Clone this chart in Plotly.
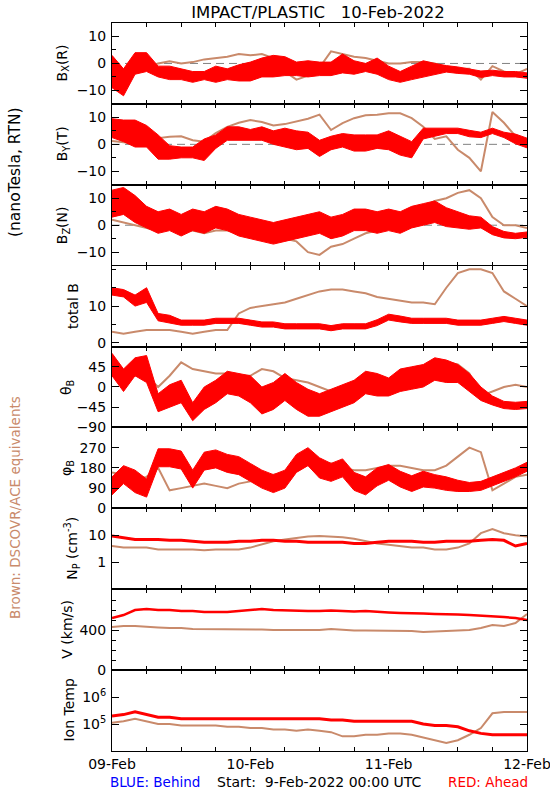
import plotly.graph_objects as go
from plotly.subplots import make_subplots

# ---------------- data (hours since 9-Feb-2022 00:00 UTC) ----------------
hours = [0, 2, 4, 6, 8, 10, 12, 14, 16, 18, 20, 22, 24, 26, 28, 30, 32, 34, 36,
         38, 40, 42, 44, 46, 48, 50, 52, 54, 56, 58, 60, 62, 64, 66, 68, 70, 72]
day_hours = [0, 24, 48, 72]
day_labels = ["09-Feb", "10-Feb", "11-Feb", "12-Feb"]
six_hour_ticks = [6, 12, 18, 30, 36, 42, 54, 60, 66]

# Bx (R), nT
bx_red = [-3, -7, 0, 0.5, -3, -3.5, -4, -5, -4.5, -4, -4, -3.5, -3, -1.5, -1, -1, -2, -2, -2,
          -2, 0, -1.5, -1.5, -1, -3.5, -5, -3.5, -2, -2, -2, -2.5, -3, -4, -3.5, -4, -4, -4.5]
bx_red_spread = [6, 5, 4, 3.5, 2, 2.5, 2, 2, 1.5, 3, 2, 3, 3.5, 3.5, 4, 3.5, 2.5, 3, 2.5,
                 2.5, 3.5, 2.5, 1.5, 3, 2.5, 2, 2.5, 3, 2, 1.2, 1.2, 1, 1.2, 1, 1, 1, 1]
bx_brown = [-1, -2.5, -1.5, -1.8, 0, 0.8, 0, 0.5, 1.5, 2, 2.5, 3.5, 3, 3.5, 2, -3, -6, -4.5, -1.5,
            4.5, 3.5, 2.5, 2, 1, 0, 0, 0.5, 0.5, 0, -1.5, -2, -2, -6, -1, -3, -4, -2]

# By (T), nT
by_red = [6, 5, 4, 3, -1, -3, -3, -3, -2, 1, 4, 4, 3.5, 4, 2.5, 2.5, 1.5, 1.5, -1.5,
          0.5, 1.5, 0.5, 0.5, 1, 1.5, -0.5, -2, 4, 4.5, 5, 5, 4, 3.5, 5, 3.5, 2, 0.5]
by_red_spread = [3.5, 4, 5, 4, 4.5, 2.5, 2, 2, 4, 2.5, 2.5, 2.5, 2, 2.5, 2.5, 3.5, 3.5, 3, 3,
                 2.5, 2.5, 3, 3, 2.5, 3.5, 3.5, 3, 2, 1.5, 1, 1, 1.2, 1, 1, 1, 1.8, 1.8]
by_brown = [1.2, 0.8, 0.3, 0.8, 2.3, 2.8, 3, 1.5, 1, 4.2, 6.5, 8, 9, 8.3, 7, 7.5, 8.5, 9.5, 11,
            5.3, 7.9, 9.7, 10.8, 11, 11.5, 11.5, 9.7, 6.5, 2, 3, -2, -5, -10, 12, 8, 3, 1]

# Bz (N), nT
bz_red = [8, 9, 6, 3, 1, 2, 0, 2, 1, 3, 2, 0, -1, -2, -3, -2, -1, 0, 1,
          -1, 0, 2, 2, 1, 2, 1, 3, 4, 5, 3, 2, 1, 1, -2, -3.5, -4, -3.5]
bz_red_spread = [5, 5, 5, 4, 4, 4, 4, 4, 4, 4, 4, 4, 4, 4, 4, 4, 4, 4, 4,
                 4, 4, 4, 4, 4, 4, 4, 4, 4, 4, 3.5, 3, 2.5, 2, 1.5, 1.2, 1, 1]
bz_brown = [2, 1, 0, -1, -2, -1, -2, -2, -3, -2, -2, -3, -2, -3, -4, -5, -6, -10, -11,
            -8, -7, -5, -3, -2, 0, 2, 4, 7, 9, 10, 12, 13, 10, 3, 0, 0, -1]

# total B, nT
btot_red = [14, 13.5, 11.5, 13, 7, 6.5, 5.5, 5.5, 5.5, 6, 6, 6, 5.5, 5, 5, 4.5, 4.5, 4.5, 4.5,
            4, 4.5, 4.5, 4.5, 5.5, 7, 6.5, 6, 6, 6, 6, 5.5, 5.5, 5.5, 6, 6.5, 6, 5.5]
btot_red_spread = [1, 1, 1.5, 2, 1, 1, 0.7, 0.7, 0.7, 0.7, 0.7, 0.7, 0.7, 0.7, 0.7, 0.7, 0.7, 0.7, 0.7,
                   0.7, 0.7, 0.7, 0.7, 0.8, 0.8, 0.8, 0.7, 0.7, 0.7, 0.7, 0.7, 0.7, 0.7, 0.7, 0.7, 0.7, 0.7]
btot_brown = [3, 2.5, 3, 3.5, 3.5, 3.5, 3, 2.5, 3, 3.5, 3.5, 8, 9.5, 10, 10.5, 11, 12, 13, 14,
              14.5, 14.5, 14, 13.5, 12.5, 12, 11.5, 11, 11, 10.5, 15, 19, 20, 20, 19, 14, 12, 10]

# theta_B, degrees
theta_red = [50, 15, 45, 40, -35, -20, -10, -55, -25, -10, 10, 5, -5, -30, -20, 0, -20, -35, -40,
             -30, -20, -10, 10, 5, 0, 15, 20, 25, 40, 35, 30, 10, -15, -30, -40, -42, -40]
theta_red_spread = [25, 25, 20, 30, 20, 25, 25, 20, 25, 25, 25, 25, 30, 30, 30, 30, 30, 30, 25,
                    25, 25, 25, 25, 25, 20, 25, 25, 25, 25, 25, 20, 20, 15, 10, 8, 8, 8]
theta_brown = [30, 30, 25, 25, 0, 25, 55, 40, 35, 30, 30, 25, 25, 40, 35, 20, 15, 10, 0,
               -10, 0, 10, 5, 0, 10, 15, 25, 35, 45, 55, 50, 30, -20, -10, 0, 5, 0]

# phi_B, degrees
phi_red = [100, 150, 120, 90, 225, 225, 215, 130, 210, 220, 200, 190, 160, 130, 110, 130, 200, 230, 180,
           160, 180, 120, 100, 140, 160, 130, 110, 130, 120, 110, 100, 95, 100, 120, 140, 160, 185]
phi_red_spread = [40, 40, 50, 40, 40, 40, 40, 40, 40, 40, 40, 40, 40, 40, 40, 40, 40, 40, 45,
                  40, 40, 40, 40, 40, 35, 35, 35, 35, 30, 30, 25, 20, 20, 20, 20, 20, 20]
phi_brown = [160, 150, 130, 140, 180, 80, 90, 100, 110, 100, 90, 110, 120, 140, 150, 160, 180, 200, 210,
             200, 180, 170, 170, 180, 190, 190, 180, 170, 170, 190, 230, 270, 250, 80, 110, 140, 150]

# proton density, cm^-3
np_red = [9.5, 8, 7, 7, 7, 6.5, 6.5, 6, 5.5, 5.5, 5.5, 6, 6, 6.5, 6.5, 6, 6, 5.5, 5.5,
          5.5, 5.5, 5, 5, 5.5, 6, 6, 6, 5.5, 5.5, 6, 6, 6, 6.5, 7, 6.5, 4, 5]
np_brown = [4, 3.5, 3.5, 3.5, 3, 3, 3, 3, 2.8, 3, 3, 3, 3.5, 4.5, 6, 7, 8, 9, 9.5,
            9, 8.5, 7.5, 6, 5, 4.5, 4, 3.5, 3.5, 3, 3, 3.5, 5, 12, 17, 12, 10, 9]

# bulk speed, km/s
v_red = [520, 550, 600, 610, 600, 600, 590, 590, 580, 580, 580, 590, 600, 610, 600, 595, 590, 590, 590,
         595, 590, 585, 590, 580, 575, 570, 570, 565, 560, 560, 555, 550, 545, 540, 530, 520, 500]
v_brown = [430, 440, 440, 430, 425, 420, 420, 410, 410, 410, 410, 410, 410, 405, 400, 400, 400, 400, 400,
           410, 400, 395, 395, 395, 390, 390, 390, 380, 385, 390, 390, 400, 420, 450, 440, 470, 560]

# ion temperature, K
temp_red = [2.0e5, 2.24e5, 2.82e5, 2.24e5, 1.78e5, 1.78e5, 1.58e5, 1.58e5, 1.58e5, 1.58e5, 1.58e5,
            1.58e5, 1.58e5, 1.58e5, 1.58e5, 1.58e5, 1.58e5, 1.58e5, 1.58e5, 1.41e5, 1.41e5,
            1.26e5, 1.26e5, 1.26e5, 1.26e5, 1.26e5, 1.26e5, 1.0e5, 8.9e4, 8.9e4, 7.9e4,
            5.6e4, 4.5e4, 4.0e4, 4.0e4, 4.2e4, 4.0e4]
temp_brown = [1.12e5, 1.26e5, 1.58e5, 1.26e5, 1.0e5, 1.0e5, 8.9e4, 8.9e4, 8.9e4, 8.9e4,
              7.9e4, 7.9e4, 7.1e4, 7.1e4, 6.3e4, 6.3e4, 5.6e4, 6.3e4, 5.6e4, 5.0e4,
              3.5e4, 3.5e4, 4.0e4, 4.0e4, 4.5e4, 4.5e4, 4.0e4, 3.2e4, 2.5e4, 2.0e4,
              2.5e4, 4.0e4, 7.1e4, 2.5e5, 2.82e5, 2.82e5, 2.82e5]

# ---------------- styling ----------------
RED = "#ff0000"
BROWN = "#c98a6b"
BLUE = "#0000ff"
FONT = "DejaVu Sans"
W, H = 550, 800
L, R, T, B = 112, 23, 23, 49
PW = W - L - R
PH = H - T - B
NROW = 9

fig = make_subplots(rows=NROW, cols=1, shared_xaxes=True, vertical_spacing=0)


def add_brown(row, y, width=2):
    fig.add_trace(go.Scatter(x=hours, y=y, mode="lines", line=dict(color=BROWN, width=width),
                             showlegend=False, hoverinfo="skip"), row=row, col=1)


def add_red_band(row, center, spread):
    lo = [c - s for c, s in zip(center, spread)]
    hi = [c + s for c, s in zip(center, spread)]
    fig.add_trace(go.Scatter(x=hours, y=lo, mode="lines", line=dict(color=RED, width=1),
                             showlegend=False, hoverinfo="skip"), row=row, col=1)
    fig.add_trace(go.Scatter(x=hours, y=hi, mode="lines", line=dict(color=RED, width=1),
                             fill="tonexty", fillcolor=RED, showlegend=False, hoverinfo="skip"),
                  row=row, col=1)


def add_red_line(row, y, width=3):
    fig.add_trace(go.Scatter(x=hours, y=y, mode="lines", line=dict(color=RED, width=width),
                             showlegend=False, hoverinfo="skip"), row=row, col=1)


add_brown(1, bx_brown); add_red_band(1, bx_red, bx_red_spread)
add_brown(2, by_brown); add_red_band(2, by_red, by_red_spread)
add_brown(3, bz_brown); add_red_band(3, bz_red, bz_red_spread)
add_brown(4, btot_brown); add_red_band(4, btot_red, btot_red_spread)
add_brown(5, theta_brown); add_red_band(5, theta_red, theta_red_spread)
add_brown(6, phi_brown); add_red_band(6, phi_red, phi_red_spread)
add_brown(7, np_brown); add_red_line(7, np_red, 3)
add_brown(8, v_brown); add_red_line(8, v_red, 2.5)
add_brown(9, temp_brown); add_red_line(9, temp_red, 3)

for r in (1, 2, 3):
    fig.add_hline(y=0, row=r, col=1, layer="below",
                  line=dict(color="#808080", width=1, dash="8px,5px"))

tickfont = dict(family=FONT, size=14, color="black")
axis_common = dict(showline=True, linecolor="black", linewidth=1, mirror="ticks",
                   ticks="inside", tickcolor="black", showgrid=False, zeroline=False,
                   tickfont=tickfont, automargin=False)

y_specs = [
    dict(range=[-15, 15], tickvals=[-10, 0, 10], minor=[-5, 5]),
    dict(range=[-15, 15], tickvals=[-10, 0, 10], minor=[-5, 5]),
    dict(range=[-15, 15], tickvals=[-10, 0, 10], minor=[-5, 5]),
    dict(range=[-1, 21], tickvals=[0, 10], minor=[5, 15, 20]),
    dict(range=[-90, 90], tickvals=[-90, -45, 0, 45], minor=[]),
    dict(range=[0, 360], tickvals=[0, 90, 180, 270], minor=[]),
    dict(range=[-1, 2], tickvals=[1, 10], ticktext=["1", "10"], type="log", minor=[]),
    dict(range=[0, 808], tickvals=[0, 400], minor=[100, 200, 300, 500, 600, 700, 800]),
    dict(range=[4, 7], tickvals=[1e5, 1e6], ticktext=["10<sup>5</sup>", "10<sup>6</sup>"],
         type="log", minor=[]),
]

for i, spec in enumerate(y_specs, start=1):
    kw = dict(axis_common)
    kw.update(range=spec["range"], tickmode="array", tickvals=spec["tickvals"], ticklen=7,
              ticklabelstandoff=2)
    if "ticktext" in spec:
        kw["ticktext"] = spec["ticktext"]
    if "type" in spec:
        kw["type"] = spec["type"]
    if spec["minor"]:
        kw["minor"] = dict(tickvals=spec["minor"], ticklen=4, ticks="inside", tickcolor="black")
    fig.update_yaxes(row=i, col=1, **kw)
    xkw = dict(axis_common)
    xkw.update(range=[0, 72], tickmode="array", tickvals=day_hours, ticktext=day_labels, ticklen=4,
               ticklabeloverflow="allow",
               minor=dict(tickvals=six_hour_ticks, ticklen=4, ticks="inside", tickcolor="black"))
    xkw["showticklabels"] = (i == NROW)
    fig.update_xaxes(row=i, col=1, **xkw)


def px_to_paper_x(px):
    return (px - L) / PW


def py_to_paper_y(py):
    return (H - B - py) / PH


panel_h = PH / NROW
y_titles = [
    ("B<sub>X</sub>(R)", 63), ("B<sub>Y</sub>(T)", 63), ("B<sub>Z</sub>(N)", 63),
    ("total B", 73), ("θ<sub>B</sub>", 67), ("φ<sub>B</sub>", 67),
    ("N<sub>P</sub> (cm<sup>-3</sup>)", 72), ("V (km/s)", 67), ("Ion Temp", 69),
]
annotations = []
for i, (txt, cx) in enumerate(y_titles):
    cy = T + panel_h * (i + 0.5)
    annotations.append(dict(text=txt, x=px_to_paper_x(cx), y=py_to_paper_y(cy), xref="paper",
                            yref="paper", textangle=-90, showarrow=False, xanchor="center",
                            yanchor="middle", font=dict(family=FONT, size=14, color="black")))

annotations += [
    dict(text="(nanoTesla, RTN)", x=px_to_paper_x(15), y=py_to_paper_y(172), textangle=-90,
         font=dict(family=FONT, size=15.5, color="black")),
    dict(text="Brown: DSCOVR/ACE equivalents", x=px_to_paper_x(15), y=py_to_paper_y(508),
         textangle=-90, font=dict(family=FONT, size=13.5, color=BROWN)),
    dict(text="BLUE: Behind", x=px_to_paper_x(155), y=py_to_paper_y(782),
         font=dict(family=FONT, size=13.5, color=BLUE)),
    dict(text="Start:\u00a0\u00a09-Feb-2022 00:00 UTC", x=px_to_paper_x(319), y=py_to_paper_y(782),
         font=dict(family=FONT, size=14, color="black")),
    dict(text="RED: Ahead", x=px_to_paper_x(488), y=py_to_paper_y(782),
         font=dict(family=FONT, size=13.5, color=RED)),
]
for a in annotations[len(y_titles):]:
    a.update(xref="paper", yref="paper", showarrow=False, xanchor="center", yanchor="middle")

fig.update_layout(
    width=W, height=H, autosize=False,
    margin=dict(l=L, r=R, t=T, b=B, pad=0, autoexpand=False),
    paper_bgcolor="white", plot_bgcolor="white",
    showlegend=False,
    title=dict(text="IMPACT/PLASTIC\u00a0\u00a0\u00a010-Feb-2022", x=px_to_paper_x(318), xref="paper",
               xanchor="center", y=1 - 12 / H, yref="container", yanchor="middle",
               font=dict(family=FONT, size=16.5, color="black")),
    annotations=annotations,
)

fig.write_html("out.html", config={"displayModeBar": False},
               post_script="document.body.style.margin='0';document.body.style.overflow='hidden';")
